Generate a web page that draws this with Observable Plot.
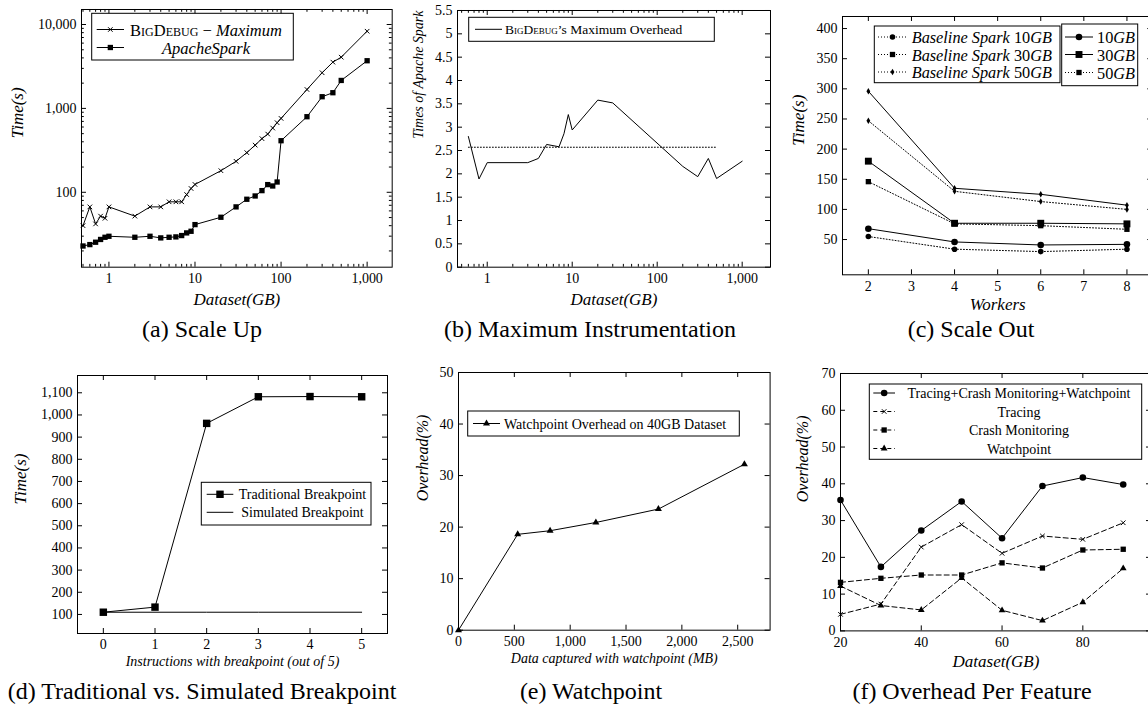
<!DOCTYPE html>
<html><head><meta charset="utf-8">
<script src="https://cdn.jsdelivr.net/npm/d3@7"></script>
<script src="https://cdn.jsdelivr.net/npm/@observablehq/plot@0.6"></script>
<style>
html,body{margin:0;padding:0;background:#fff;overflow:hidden;}
#fig{position:relative;width:1148px;height:709px;overflow:hidden;background:#fff;}
#fig svg{position:absolute;}
</style></head><body><div id="fig"></div>
<script>
// ---------------- data ----------------
// (a) Scale Up
const scaleUpDataset = [0.5,0.6,0.7,0.8,0.9,1,2,3,4,5,6,7,8,9,10,20,30,40,50,60,70,80,90,100,200,300,400,500,1000];
const bigDebugMaxTime = [40,67,42,52,49,67,52,67,67,77,77,77,94,111,124,181,234,297,365,436,494,583,675,760,1680,2660,3560,4080,8320];
const apacheSparkTime = [22.9,23.8,25.4,27.4,29.1,29.9,29.1,29.9,28.6,29.1,29.4,30.5,32.8,34.3,41.2,50.4,67,82.6,90.4,104.7,123.5,118.9,132.6,412,796,1378,1538,2154,3700];
// (b) Maximum Instrumentation
const overheadDataset = [0.6,0.8,1,3,4,5,7,8,9,10,20,30,200,300,400,500,1000];
const overheadTimes = [2.80,1.89,2.24,2.24,2.33,2.63,2.58,2.86,3.27,2.94,3.58,3.52,2.16,1.94,2.33,1.90,2.27];
const averageOverhead = 2.57;
const averageRange = [0.6, 500];
// (c) Scale Out
const workers = [2,4,6,8];
const bigDebug10GB = [68,46,41,42];
const bigDebug30GB = [180,77,77,76];
const bigDebug50GB = [296,135,125,107];
const baseline10GB = [55,34,30,34];
const baseline30GB = [146,76,73,67];
const baseline50GB = [247,130,113,100];
// (d) Traditional vs. Simulated Breakpoint
const instructions = [0,1,2,3,4,5];
const traditionalTime = [110,133,962,1082,1083,1082];
const simulatedTime = [110,110,110,110,110,110];
// (e) Watchpoint
const capturedMB = [0,530,820,1230,1790,2560];
const watchpointOverhead = [0,18.6,19.3,20.9,23.5,32.2];
// (f) Overhead Per Feature
const featureDataset = [20,30,40,50,60,70,80,90];
const allFeatures = [35.6,17.4,27.3,35.2,25.2,39.4,41.7,39.8];
const tracingOverhead = [4.5,7.3,22.8,28.9,21.1,25.8,24.9,29.4];
const crashOverhead = [13.2,14.3,15.2,15.2,18.5,17.1,22,22.2];
const watchOverhead = [12.2,6.9,5.7,14.4,5.6,2.8,7.8,17];

// ---------------- ticks ----------------
const logMajorX = [1,10,100,1000];
const logMinorX = [0.5,0.6,0.7,0.8,0.9,2,3,4,5,6,7,8,9,20,30,40,50,60,70,80,90,200,300,400,500,600,700,800,900];
const timeMajorLog = [100,1000,10000];
const timeMinorLog = [20,30,40,50,60,70,80,90,200,300,400,500,600,700,800,900,2000,3000,4000,5000,6000,7000,8000,9000];
const timesTicks = [0,0.5,1,1.5,2,2.5,3,3.5,4,4.5,5,5.5];
const workerTicks = [2,3,4,5,6,7,8];
const scaleOutTicks = [50,100,150,200,250,300,350,400];
const instructionTicks = [0,1,2,3,4,5];
const breakpointTicks = [100,200,300,400,500,600,700,800,900,1000,1100];
const capturedTicks = [0,500,1000,1500,2000,2500];
const watchTicks = [0,10,20,30,40,50];
const featureTicks = [20,40,60,80];
const featureOverheadTicks = [0,10,20,30,40,50,60,70];

// ---------------- layout helpers ----------------
const fig = document.getElementById("fig");
const SERIF = "'Liberation Serif', 'Times New Roman', serif";
const ML = 80, MR = 12, MT = 12, MB = 70;
const comma = d3.format(",");
const id = d => d;

function panel(o) {
  const [x0, x1, y0, y1] = o.frame;
  const w = x1 - x0, h = y1 - y0;
  const L = 5, l = 2.8;
  const marks = [
    Plot.tickX(o.xMajor, {x: id, insetTop: h - L}),
    Plot.tickX(o.xMajor, {x: id, insetBottom: h - L}),
    Plot.tickY(o.yMajor, {y: id, insetRight: w - L}),
    Plot.tickY(o.yMajor, {y: id, insetLeft: w - L})
  ];
  if (o.xMinor) marks.push(Plot.tickX(o.xMinor, {x: id, insetTop: h - l}), Plot.tickX(o.xMinor, {x: id, insetBottom: h - l}));
  if (o.yMinor) marks.push(Plot.tickY(o.yMinor, {y: id, insetRight: w - l}), Plot.tickY(o.yMinor, {y: id, insetLeft: w - l}));
  marks.push(
    Plot.axisX({ticks: o.xMajor, tickSize: 0, tickPadding: 6, tickFormat: o.xFormat, label: null, fontSize: 14}),
    Plot.axisY({ticks: o.yMajor, tickSize: 0, tickPadding: 5, tickFormat: o.yFormat, label: null, fontSize: 14}),
    Plot.text([o.xTitle], {text: id, frameAnchor: "bottom", dy: o.xTitleDy, lineAnchor: "middle", fontStyle: "italic", fontSize: o.xTitleSize}),
    Plot.text([o.yTitle], {text: id, frameAnchor: "left", dx: -(x0 - o.yTitleX), rotate: -90, lineAnchor: "middle", fontStyle: "italic", fontSize: o.yTitleSize}),
    ...o.marks,
    Plot.frame({stroke: "black", strokeWidth: 1})
  );
  const svg = Plot.plot({
    width: w + ML + MR, height: h + MT + MB,
    marginLeft: ML, marginRight: MR, marginTop: MT, marginBottom: MB,
    x: o.x, y: o.y,
    style: {fontFamily: SERIF, fontSize: "14px", background: "transparent", overflow: "visible", color: "black"},
    marks
  });
  svg.style.left = (x0 - ML) + "px";
  svg.style.top = (y0 - MT) + "px";
  fig.appendChild(svg);
}

const rows = (xs, obj) => xs.map((x, i) => {
  const r = {x};
  for (const k in obj) r[k] = obj[k][i];
  return r;
});
const solid = {stroke: "black", strokeWidth: 1};
const dotted = {stroke: "black", strokeWidth: 1, strokeDasharray: "1,2"};
const dashed = {stroke: "black", strokeWidth: 1, strokeDasharray: "5,3"};

// (a)
const scaleUp = rows(scaleUpDataset, {bd: bigDebugMaxTime, sp: apacheSparkTime});
panel({
  frame: [81, 391.7, 9, 266.7],
  x: {type: "log", domain: [0.48, 1955]}, y: {type: "log", domain: [12.8, 15100]},
  xMajor: logMajorX, xMinor: logMinorX, yMajor: timeMajorLog, yMinor: timeMinorLog,
  xFormat: comma, yFormat: comma,
  xTitle: "Dataset(GB)", xTitleDy: 32, xTitleSize: 17,
  yTitle: "Time(s)", yTitleX: 17, yTitleSize: 17,
  marks: [
    Plot.line(scaleUp, {x: "x", y: "bd", ...solid}),
    Plot.dot(scaleUp, {x: "x", y: "bd", symbol: "times", r: 2.2, stroke: "black", strokeWidth: 1}),
    Plot.line(scaleUp, {x: "x", y: "sp", ...solid}),
    Plot.dot(scaleUp, {x: "x", y: "sp", symbol: "square", r: 3, fill: "black"})
  ]
});

// (b)
const maxInst = rows(overheadDataset, {t: overheadTimes});
const avgLine = averageRange.map(x => ({x, t: averageOverhead}));
panel({
  frame: [457, 770, 10, 266.7],
  x: {type: "log", domain: [0.447, 2154]}, y: {domain: [0, 5.5]},
  xMajor: logMajorX, xMinor: logMinorX, yMajor: timesTicks,
  xFormat: comma, yFormat: d => String(d),
  xTitle: "Dataset(GB)", xTitleDy: 32, xTitleSize: 17,
  yTitle: "Times of Apache Spark", yTitleX: 418, yTitleSize: 14,
  marks: [
    Plot.line(avgLine, {x: "x", y: "t", ...dotted}),
    Plot.line(maxInst, {x: "x", y: "t", ...solid})
  ]
});

// (c)
const scaleOut = rows(workers, {b10: bigDebug10GB, b30: bigDebug30GB, b50: bigDebug50GB, s10: baseline10GB, s30: baseline30GB, s50: baseline50GB});
panel({
  frame: [842.3, 1152.6, 15.7, 274],
  x: {domain: [1.4, 8.6]}, y: {domain: [-8.5, 420]},
  xMajor: workerTicks, yMajor: scaleOutTicks,
  xFormat: d => String(d), yFormat: d => String(d),
  xTitle: "Workers", xTitleDy: 30, xTitleSize: 17,
  yTitle: "Time(s)", yTitleX: 798, yTitleSize: 17,
  marks: [
    Plot.line(scaleOut, {x: "x", y: "s10", ...dotted}),
    Plot.line(scaleOut, {x: "x", y: "s30", ...dotted}),
    Plot.line(scaleOut, {x: "x", y: "s50", ...dotted}),
    Plot.dot(scaleOut, {x: "x", y: "s10", symbol: "circle", r: 2.8, fill: "black"}),
    Plot.dot(scaleOut, {x: "x", y: "s30", symbol: "square", r: 3, fill: "black"}),
    Plot.dot(scaleOut, {x: "x", y: "s50", symbol: "diamond", r: 2, fill: "black"}),
    Plot.line(scaleOut, {x: "x", y: "b10", ...solid}),
    Plot.line(scaleOut, {x: "x", y: "b30", ...solid}),
    Plot.line(scaleOut, {x: "x", y: "b50", ...solid}),
    Plot.dot(scaleOut, {x: "x", y: "b10", symbol: "circle", r: 3.3, fill: "black"}),
    Plot.dot(scaleOut, {x: "x", y: "b30", symbol: "square", r: 3.9, fill: "black"}),
    Plot.dot(scaleOut, {x: "x", y: "b50", symbol: "diamond", r: 2, fill: "black"})
  ]
});

// (d)
const bp = rows(instructions, {t: traditionalTime, s: simulatedTime});
panel({
  frame: [77, 387, 375, 633],
  x: {domain: [-0.5, 5.5]}, y: {domain: [14, 1178]},
  xMajor: instructionTicks, yMajor: breakpointTicks,
  xFormat: d => String(d), yFormat: comma,
  xTitle: "Instructions with breakpoint (out of 5)", xTitleDy: 28, xTitleSize: 14,
  yTitle: "Time(s)", yTitleX: 20, yTitleSize: 17,
  marks: [
    Plot.line(bp, {x: "x", y: "s", ...solid}),
    Plot.line(bp, {x: "x", y: "t", ...solid}),
    Plot.dot(bp, {x: "x", y: "t", symbol: "square", r: 4.2, fill: "black"})
  ]
});

// (e)
const wp = rows(capturedMB, {o: watchpointOverhead});
panel({
  frame: [457.5, 769.1, 372.3, 630],
  x: {domain: [0, 2790]}, y: {domain: [0, 50]},
  xMajor: capturedTicks, yMajor: watchTicks,
  xFormat: comma, yFormat: d => String(d),
  xTitle: "Data captured with watchpoint (MB)", xTitleDy: 28, xTitleSize: 14,
  yTitle: "Overhead(%)", yTitleX: 422, yTitleSize: 16,
  marks: [
    Plot.line(wp, {x: "x", y: "o", ...solid}),
    Plot.dot(wp, {x: "x", y: "o", symbol: "triangle", r: 2.6, fill: "black"})
  ]
});

// (f)
const feat = rows(featureDataset, {all: allFeatures, tr: tracingOverhead, cr: crashOverhead, wa: watchOverhead});
panel({
  frame: [840, 1151, 373.3, 630.7],
  x: {domain: [20, 97]}, y: {domain: [0, 70]},
  xMajor: featureTicks, yMajor: featureOverheadTicks,
  xFormat: d => String(d), yFormat: d => String(d),
  xTitle: "Dataset(GB)", xTitleDy: 31, xTitleSize: 17,
  yTitle: "Overhead(%)", yTitleX: 802, yTitleSize: 16,
  marks: [
    Plot.line(feat, {x: "x", y: "wa", ...dashed}),
    Plot.dot(feat, {x: "x", y: "wa", symbol: "triangle", r: 2.5, fill: "black"}),
    Plot.line(feat, {x: "x", y: "cr", ...dashed}),
    Plot.dot(feat, {x: "x", y: "cr", symbol: "square", r: 3, fill: "black"}),
    Plot.line(feat, {x: "x", y: "tr", ...dashed}),
    Plot.dot(feat, {x: "x", y: "tr", symbol: "times", r: 2.2, stroke: "black", strokeWidth: 1}),
    Plot.line(feat, {x: "x", y: "all", ...solid}),
    Plot.dot(feat, {x: "x", y: "all", symbol: "circle", r: 3.3, fill: "black"})
  ]
});

// ---------------- legends & captions (overlay) ----------------
const ov = d3.create("svg").attr("width", 1148).attr("height", 709)
  .style("left", "0px").style("top", "0px").style("font-family", SERIF);
const symbolType = {circle: d3.symbolCircle, square: d3.symbolSquare, triangle: d3.symbolTriangle, times: d3.symbolTimes, diamond: d3.symbolDiamond};
function box(x0, y0, x1, y1) {
  ov.append("rect").attr("x", x0).attr("y", y0).attr("width", x1 - x0).attr("height", y1 - y0)
    .attr("fill", "white").attr("stroke", "black").attr("stroke-width", 1);
}
function sample(xa, xb, y, dash, symbol, r) {
  ov.append("line").attr("x1", xa).attr("x2", xb).attr("y1", y).attr("y2", y)
    .attr("stroke", "black").attr("stroke-width", 1).attr("stroke-dasharray", dash || null);
  if (symbol) {
    const stroked = symbol === "times";
    ov.append("path").attr("transform", `translate(${(xa + xb) / 2},${y})`)
      .attr("d", d3.symbol(symbolType[symbol], Math.PI * r * r)())
      .attr("fill", stroked ? "none" : "black").attr("stroke", stroked ? "black" : "none").attr("stroke-width", 1);
  }
}
function label(x, y, anchor, size, parts) {
  const t = ov.append("text").attr("x", x).attr("y", y).attr("text-anchor", anchor)
    .attr("dominant-baseline", "central").attr("font-size", size);
  for (const p of parts) {
    const s = t.append("tspan").text(p.t);
    if (p.i) s.attr("font-style", "italic");
    if (p.sc) s.attr("font-variant", "small-caps");
  }
}
// (a)
box(91.7, 13.3, 293.3, 60);
sample(96.7, 124, 29.5, null, "times", 2.2);
label(206, 29.5, "middle", 16.5, [{t: "BigDebug", sc: true}, {t: " − "}, {t: "Maximum", i: true}]);
sample(96.7, 124, 47.5, null, "square", 3);
label(206, 47.5, "middle", 16.5, [{t: "ApacheSpark", i: true}]);
// (b)
box(468.7, 17.3, 714.3, 41.3);
sample(475, 502, 29.3, null);
label(505, 29.3, "start", 13.5, [{t: "BigDebug", sc: true}, {t: "’s Maximum Overhead"}]);
// (c)
box(874.3, 26, 1060, 82.7);
sample(878, 907, 37, "1,2", "circle", 2.8);
label(911.7, 37, "start", 16.3, [{t: "Baseline Spark ", i: true}, {t: "10"}, {t: "GB", i: true}]);
sample(878, 907, 54.5, "1,2", "square", 3);
label(911.7, 54.5, "start", 16.3, [{t: "Baseline Spark ", i: true}, {t: "30"}, {t: "GB", i: true}]);
sample(878, 907, 72, "1,2", "diamond", 2);
label(911.7, 72, "start", 16.3, [{t: "Baseline Spark ", i: true}, {t: "50"}, {t: "GB", i: true}]);
box(1061.7, 24, 1137.7, 85.7);
sample(1065, 1093, 37, null, "circle", 3.3);
label(1097, 37, "start", 16.3, [{t: "10"}, {t: "GB", i: true}]);
sample(1065, 1093, 54.5, null, "square", 3.9);
label(1097, 54.5, "start", 16.3, [{t: "30"}, {t: "GB", i: true}]);
sample(1065, 1093, 72.5, "1,2", "square", 3);
label(1097, 72.5, "start", 16.3, [{t: "50"}, {t: "GB", i: true}]);
// (d)
box(201.3, 482.3, 371, 525);
sample(206.7, 233.3, 494.3, null, "square", 4.2);
label(302.5, 494.3, "middle", 14, [{t: "Traditional Breakpoint"}]);
sample(206.7, 233.3, 512.3, null);
label(302.5, 512.3, "middle", 14, [{t: "Simulated Breakpoint"}]);
// (e)
box(467.7, 411, 739.3, 436);
sample(473, 500, 423.5, null, "triangle", 2.6);
label(504, 423.5, "start", 14, [{t: "Watchpoint Overhead on 40GB Dataset"}]);
// (f)
box(869.3, 384, 1141.7, 459.3);
sample(873.3, 895, 393, null, "circle", 3.3);
label(1019, 393, "middle", 14, [{t: "Tracing+Crash Monitoring+Watchpoint"}]);
sample(873.3, 895, 411.5, "4,3", "times", 2.2);
label(1019, 411.5, "middle", 14, [{t: "Tracing"}]);
sample(873.3, 895, 430, "4,3", "square", 3);
label(1019, 430, "middle", 14, [{t: "Crash Monitoring"}]);
sample(873.3, 895, 448.5, "4,3", "triangle", 2.5);
label(1019, 448.5, "middle", 14, [{t: "Watchpoint"}]);

// captions
const captions = [
  ["(a) Scale Up", 202, 337], ["(b) Maximum Instrumentation", 590, 337], ["(c) Scale Out", 971, 337],
  ["(d) Traditional vs. Simulated Breakpoint", 202, 699], ["(e) Watchpoint", 591, 699], ["(f) Overhead Per Feature", 972, 699]
];
for (const [t, x, y] of captions) {
  ov.append("text").attr("x", x).attr("y", y).attr("text-anchor", "middle").attr("font-size", 24).text(t);
}
fig.appendChild(ov.node());
</script></body></html>
